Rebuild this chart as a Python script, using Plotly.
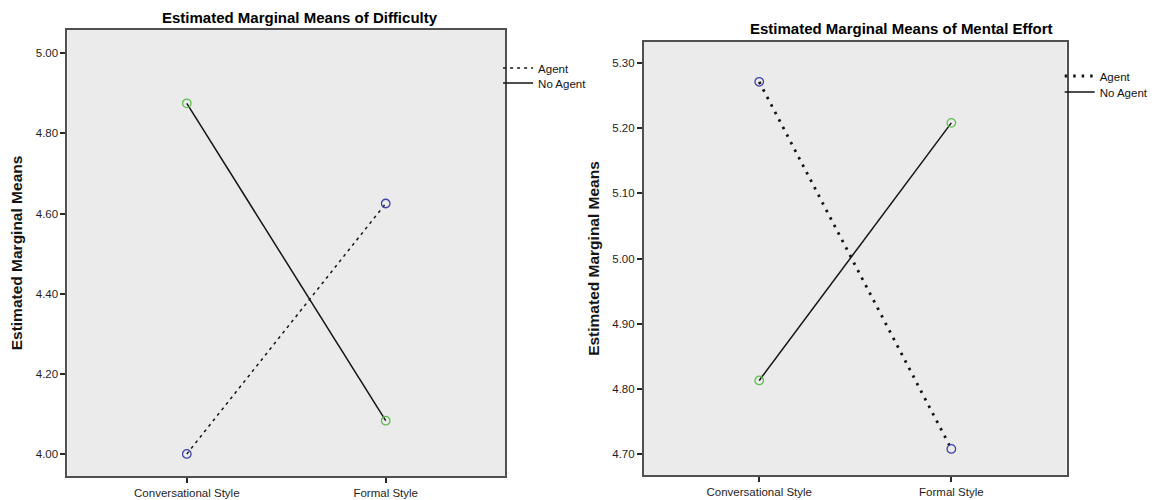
import plotly.graph_objects as go

# ---------------- data ----------------
categories = ["Conversational Style", "Formal Style"]
series_names = ["Agent", "No Agent"]

difficulty_agent = [4.000, 4.625]
difficulty_no_agent = [4.875, 4.083]

effort_agent = [5.271, 4.708]
effort_no_agent = [4.813, 5.208]

difficulty_ticks = [4.00, 4.20, 4.40, 4.60, 4.80, 5.00]
effort_ticks = [4.70, 4.80, 4.90, 5.00, 5.10, 5.20, 5.30]

titles = ["Estimated Marginal Means of Difficulty",
          "Estimated Marginal Means of Mental Effort"]
y_title = "Estimated Marginal Means"

# ---------------- styling ----------------
W, H = 1154, 500
FONT = "Liberation Sans, Arial, sans-serif"
BLUE = "rgb(64,64,176)"
GREEN = "rgb(96,190,80)"
LINE = "rgb(20,20,20)"
FRAME = "rgb(80,80,80)"
BG = "rgb(235,235,235)"


def fx(p):
    return p / W


def fy(p):
    return 1 - p / H


fig = go.Figure()

panels = [
    dict(agent=difficulty_agent, no_agent=difficulty_no_agent, xa="x", ya="y",
         agent_dash="3px,4px", agent_width=1.5, lg=("legend", "legend2")),
    dict(agent=effort_agent, no_agent=effort_no_agent, xa="x2", ya="y2",
         agent_dash="2.5px,6px", agent_width=2.8, lg=("legend3", "legend4")),
]

for p in panels:
    # data traces
    fig.add_trace(go.Scatter(
        x=categories, y=p["agent"], xaxis=p["xa"], yaxis=p["ya"],
        mode="lines+markers", name=series_names[0], showlegend=False,
        line=dict(color=LINE, width=p["agent_width"], dash=p["agent_dash"]),
        marker=dict(symbol="circle-open", size=8.5, color=BLUE,
                    line=dict(width=1.3, color=BLUE)),
    ))
    fig.add_trace(go.Scatter(
        x=categories, y=p["no_agent"], xaxis=p["xa"], yaxis=p["ya"],
        mode="lines+markers", name=series_names[1], showlegend=False,
        line=dict(color=LINE, width=1.5),
        marker=dict(symbol="circle-open", size=8.5, color=GREEN,
                    line=dict(width=1.3, color=GREEN)),
    ))
    # legend entries (line keys only)
    fig.add_trace(go.Scatter(
        x=[None], y=[None], xaxis=p["xa"], yaxis=p["ya"], mode="lines",
        name=series_names[0], legend=p["lg"][0], showlegend=True,
        line=dict(color=LINE, width=p["agent_width"], dash=p["agent_dash"]),
    ))
    fig.add_trace(go.Scatter(
        x=[None], y=[None], xaxis=p["xa"], yaxis=p["ya"], mode="lines",
        name=series_names[1], legend=p["lg"][1], showlegend=True,
        line=dict(color=LINE, width=1.5),
    ))

common_x = dict(
    type="category", range=[-0.6, 1.6], showline=True, mirror=True,
    linecolor=FRAME, linewidth=2, ticks="outside", ticklen=5,
    tickwidth=1.5, tickcolor="rgb(40,40,40)", showgrid=False, zeroline=False,
    tickfont=dict(family=FONT, size=11.5, color="rgb(30,30,30)"),
    automargin=False, fixedrange=True,
)
common_y = dict(
    showline=True, mirror=True, linecolor=FRAME, linewidth=2,
    ticks="outside", ticklen=5, tickwidth=1.5, tickcolor="rgb(40,40,40)",
    showgrid=False, zeroline=False,
    tickfont=dict(family=FONT, size=11.5, color="rgb(30,30,30)"),
    automargin=False, fixedrange=True,
)

legend_common = dict(
    bgcolor="rgba(0,0,0,0)", borderwidth=0, xanchor="left", yanchor="middle",
    font=dict(family=FONT, size=11.5, color="rgb(20,20,20)"),
    itemwidth=30, itemclick=False, itemdoubleclick=False,
)

fig.update_layout(
    width=W, height=H,
    margin=dict(l=0, r=0, t=0, b=0),
    paper_bgcolor="white", plot_bgcolor=BG,
    font=dict(family=FONT, color="rgb(20,20,20)"),
    xaxis=dict(domain=[fx(68), fx(509)], anchor="y", **common_x),
    yaxis=dict(domain=[fy(476), fy(30)], anchor="x", range=[3.945, 5.058],
               tickvals=difficulty_ticks,
               ticktext=[f"{v:.2f}" for v in difficulty_ticks],
               title=dict(text=f"<b>{y_title}</b>", standoff=9,
                          font=dict(family=FONT, size=15.5)),
               **common_y),
    xaxis2=dict(domain=[fx(649), fx(1075)], anchor="y2", **common_x),
    yaxis2=dict(domain=[fy(475), fy(42)], anchor="x2", range=[4.668, 5.332],
                tickvals=effort_ticks,
                ticktext=[f"{v:.2f}" for v in effort_ticks],
                title=dict(text=f"<b>{y_title}</b>", standoff=9,
                           font=dict(family=FONT, size=15.5)),
                **common_y),
    legend=dict(x=fx(502), y=fy(68), **legend_common),
    legend2=dict(x=fx(502), y=fy(83), **legend_common),
    legend3=dict(x=fx(1068), y=fy(76), **legend_common),
    legend4=dict(x=fx(1068), y=fy(92), **legend_common),
    annotations=[
        dict(text=f"<b>{titles[0]}</b>", xref="paper", yref="paper",
             x=fx(302), y=fy(17), xanchor="center", yanchor="middle",
             showarrow=False, font=dict(family=FONT, size=15, color="black")),
        dict(text=f"<b>{titles[1]}</b>", xref="paper", yref="paper",
             x=fx(909), y=fy(28), xanchor="center", yanchor="middle",
             showarrow=False, font=dict(family=FONT, size=15, color="black")),
    ],
)

fig.write_html(
    "out.html",
    config={"displayModeBar": False, "staticPlot": False},
    post_script="document.body.style.margin='0';document.body.style.overflow='hidden';",
)
